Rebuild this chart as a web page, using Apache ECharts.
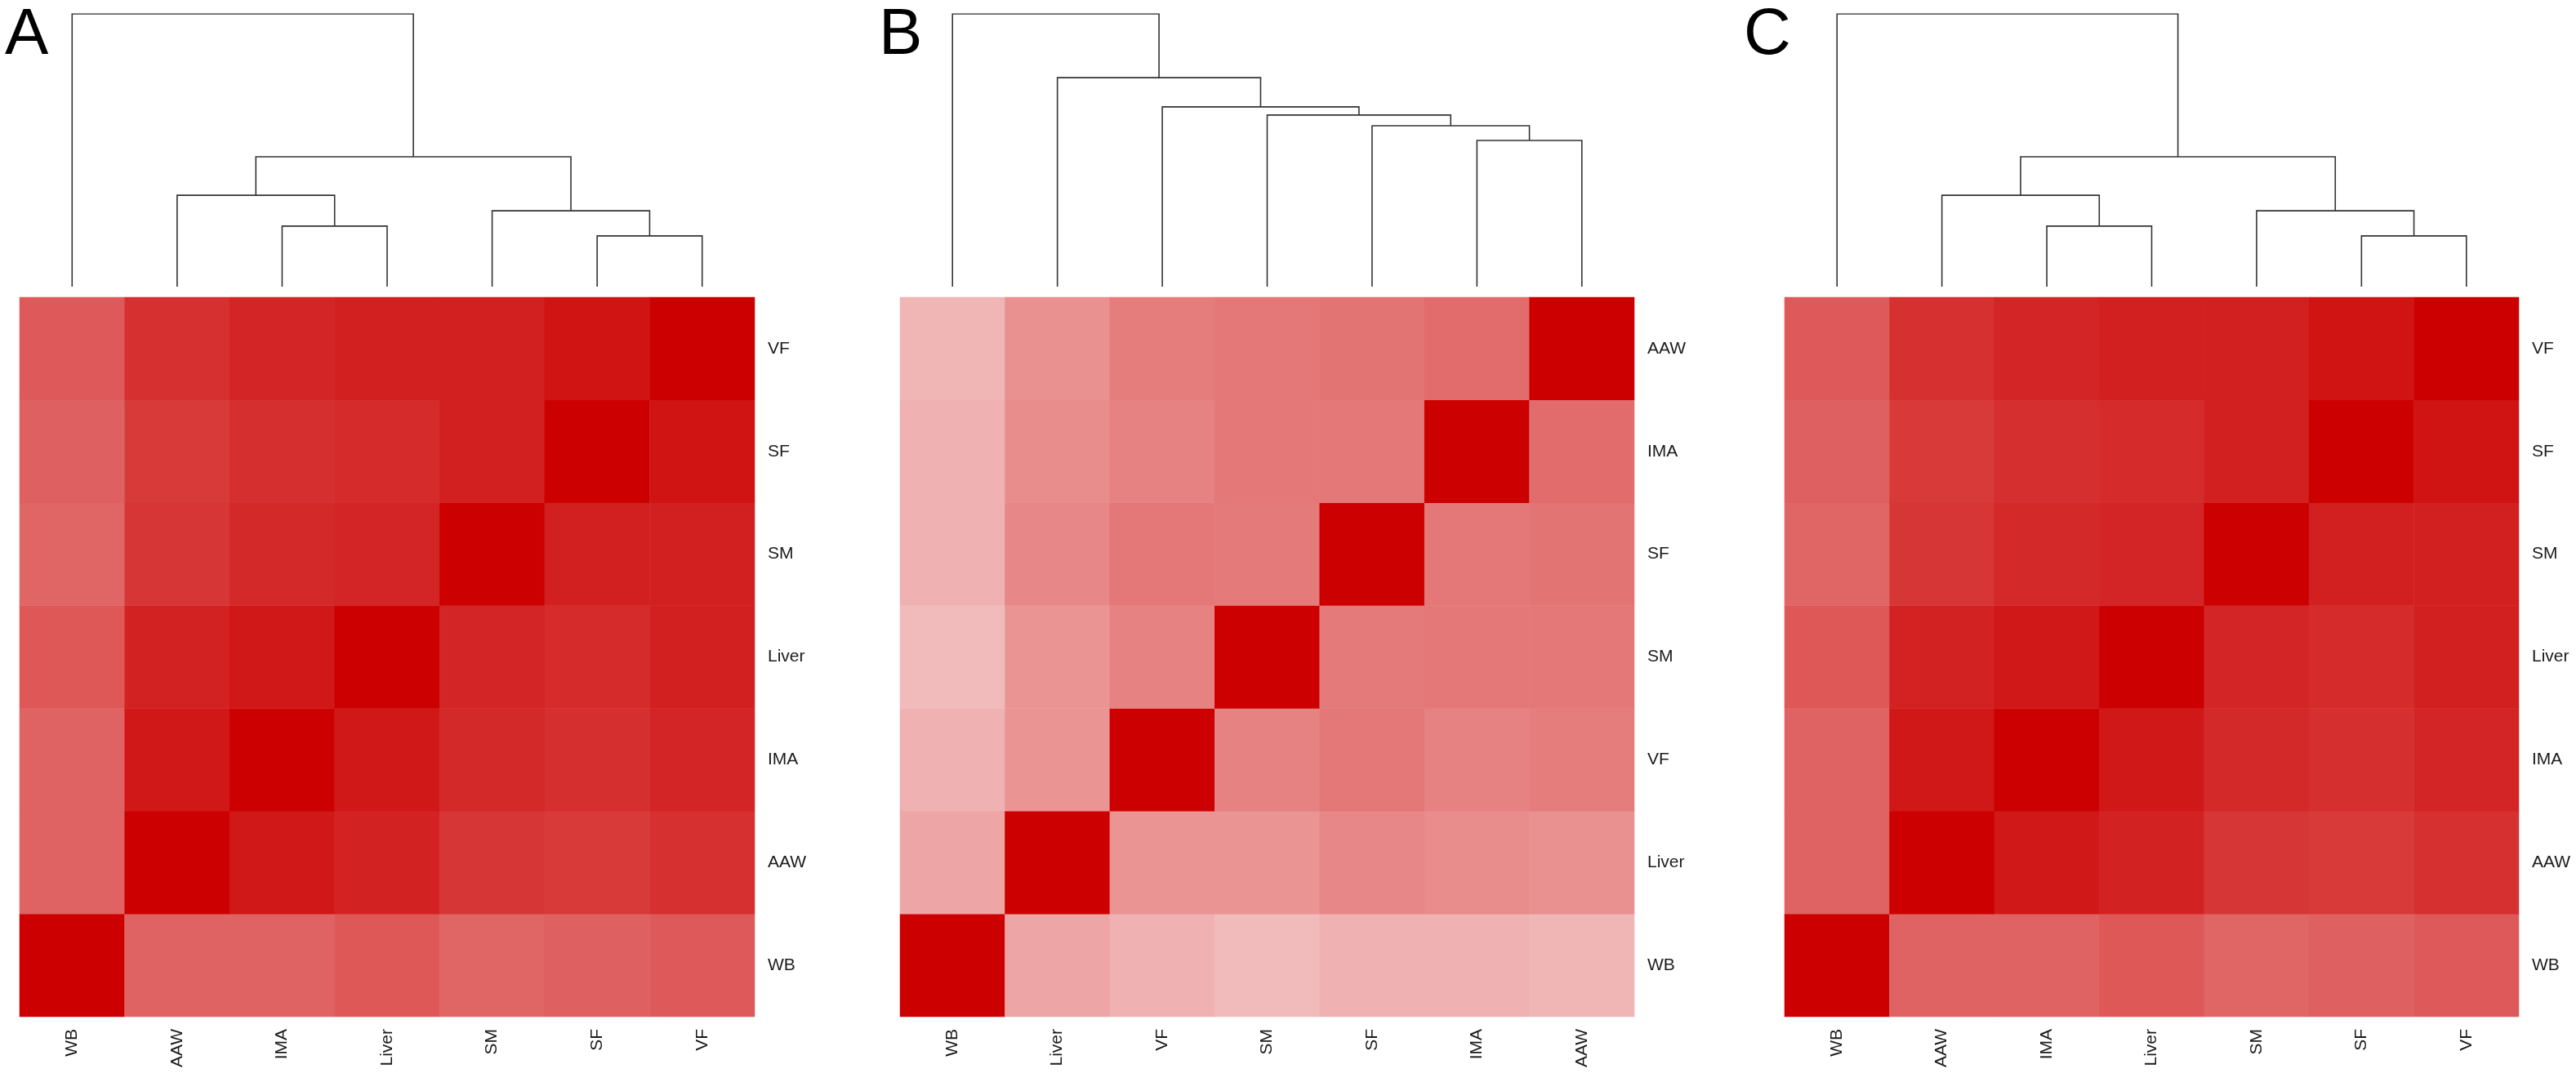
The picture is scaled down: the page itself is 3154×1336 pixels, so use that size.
<!DOCTYPE html>
<html>
<head>
<meta charset="utf-8">
<script src="https://cdn.jsdelivr.net/npm/echarts@6/dist/echarts.min.js"></script>
<style>
html,body{margin:0;padding:0;background:#fff;}
#chart{width:3154px;height:1336px;}
</style>
</head>
<body>
<div id="chart"></div>
<script>
// ---------------- DATA ----------------
var panelLetters = ['A', 'B', 'C'];

// leaf / axis order of each panel (bottom-to-top for rows, left-to-right for columns)
var labelsA = ['WB', 'AAW', 'IMA', 'Liver', 'SM', 'SF', 'VF'];
var labelsB = ['WB', 'Liver', 'VF', 'SM', 'SF', 'IMA', 'AAW'];
var labelsC = ['WB', 'AAW', 'IMA', 'Liver', 'SM', 'SF', 'VF'];

// similarity matrices (rows/cols in the label order above)
var matrixA = [
  [1.000, 0.610, 0.612, 0.655, 0.604, 0.624, 0.647],
  [0.610, 1.000, 0.906, 0.867, 0.790, 0.773, 0.812],
  [0.612, 0.906, 1.000, 0.906, 0.838, 0.815, 0.855],
  [0.655, 0.867, 0.906, 1.000, 0.855, 0.830, 0.878],
  [0.604, 0.790, 0.838, 0.855, 1.000, 0.875, 0.876],
  [0.624, 0.773, 0.815, 0.830, 0.875, 1.000, 0.920],
  [0.647, 0.812, 0.855, 0.878, 0.876, 0.920, 1.000]
];
var matrixB = [
  [1.000, 0.353, 0.305, 0.265, 0.305, 0.305, 0.290],
  [0.353, 1.000, 0.420, 0.420, 0.470, 0.450, 0.435],
  [0.305, 0.420, 1.000, 0.490, 0.535, 0.490, 0.510],
  [0.265, 0.420, 0.490, 1.000, 0.520, 0.535, 0.530],
  [0.305, 0.470, 0.535, 0.520, 1.000, 0.530, 0.545],
  [0.305, 0.450, 0.490, 0.535, 0.530, 1.000, 0.575],
  [0.290, 0.435, 0.510, 0.530, 0.545, 0.575, 1.000]
];
var matrixC = [
  [1.000, 0.610, 0.612, 0.655, 0.604, 0.624, 0.647],
  [0.610, 1.000, 0.906, 0.867, 0.790, 0.773, 0.812],
  [0.612, 0.906, 1.000, 0.906, 0.838, 0.815, 0.855],
  [0.655, 0.867, 0.906, 1.000, 0.855, 0.830, 0.878],
  [0.604, 0.790, 0.838, 0.855, 1.000, 0.875, 0.876],
  [0.624, 0.773, 0.815, 0.830, 0.875, 1.000, 0.920],
  [0.647, 0.812, 0.855, 0.878, 0.876, 0.920, 1.000]
];

// dendrograms in hclust "merge" format: -k = leaf k (1-based, in label order), +m = earlier merge m
var mergeA = [[-3, -4], [-2, 1], [-6, -7], [-5, 3], [2, 4], [-1, 5]];
var heightA = [0.222, 0.335, 0.186, 0.278, 0.476, 1.000];
var mergeB = [[-6, -7], [-5, 1], [-4, 2], [-3, 3], [-2, 4], [-1, 5]];
var heightB = [0.536, 0.590, 0.629, 0.659, 0.766, 1.000];
var mergeC = [[-3, -4], [-2, 1], [-6, -7], [-5, 3], [2, 4], [-1, 5]];
var heightC = [0.222, 0.335, 0.186, 0.278, 0.476, 1.000];

// ---------------- LAYOUT ----------------
var panelLeft = [24, 1102, 2185];
var panelWidth = [900, 899, 899];
var heatTop = 364, heatHeight = 881;
var dendTop = 17, dendHeight = 334;
var fontFam = '"Liberation Sans", Arial, Helvetica, sans-serif';

var panels = [
  {labels: labelsA, matrix: matrixA, merge: mergeA, height: heightA},
  {labels: labelsB, matrix: matrixB, merge: mergeB, height: heightB},
  {labels: labelsC, matrix: matrixC, merge: mergeC, height: heightC}
];

function dendroSegments(merge, height) {
  var pos = [], segs = [];
  function nodeXY(ref) {
    if (ref < 0) return [-ref - 1, 0];
    return pos[ref - 1];
  }
  for (var i = 0; i < merge.length; i++) {
    var a = nodeXY(merge[i][0]), b = nodeXY(merge[i][1]), h = height[i];
    segs.push({coords: [[a[0], a[1]], [a[0], h], [b[0], h], [b[0], b[1]]]});
    pos.push([(a[0] + b[0]) / 2, h]);
  }
  return segs;
}

var grids = [], xAxes = [], yAxes = [], series = [], graphics = [], heatIdx = [];

panels.forEach(function (p, i) {
  // heatmap grid
  grids.push({left: panelLeft[i], top: heatTop, width: panelWidth[i], height: heatHeight, containLabel: false});
  xAxes.push({
    type: 'category', gridIndex: 2 * i, data: p.labels, position: 'bottom',
    axisLine: {show: false}, axisTick: {show: false}, splitLine: {show: false},
    axisLabel: {rotate: 90, margin: 15, fontSize: 21, color: '#1a1a1a', fontFamily: fontFam, interval: 0}
  });
  yAxes.push({
    type: 'category', gridIndex: 2 * i, data: p.labels, position: 'right',
    axisLine: {show: false}, axisTick: {show: false}, splitLine: {show: false},
    axisLabel: {margin: 16, fontSize: 21, color: '#1a1a1a', fontFamily: fontFam, interval: 0}
  });
  var data = [];
  for (var r = 0; r < p.labels.length; r++) {
    for (var c = 0; c < p.labels.length; c++) {
      data.push([c, r, p.matrix[r][c]]);
    }
  }
  heatIdx.push(series.length);
  series.push({
    type: 'heatmap', xAxisIndex: 2 * i, yAxisIndex: 2 * i, data: data,
    itemStyle: {borderWidth: 0}, emphasis: {disabled: true}, progressive: 0
  });

  // dendrogram grid
  grids.push({left: panelLeft[i], top: dendTop, width: panelWidth[i], height: dendHeight});
  xAxes.push({type: 'value', gridIndex: 2 * i + 1, min: -0.5, max: p.labels.length - 0.5, show: false});
  yAxes.push({type: 'value', gridIndex: 2 * i + 1, min: 0, max: 1, show: false});
  series.push({
    type: 'lines', coordinateSystem: 'cartesian2d', polyline: true,
    xAxisIndex: 2 * i + 1, yAxisIndex: 2 * i + 1,
    data: dendroSegments(p.merge, p.height),
    lineStyle: {color: '#333333', width: 1.6, opacity: 1},
    silent: true
  });
});

var letterX = [6, 1076, 2135];
panelLetters.forEach(function (L, i) {
  graphics.push({
    type: 'text', left: letterX[i], top: 4,
    style: {text: L, font: '80px ' + fontFam, fill: '#000'}
  });
});

var chart = echarts.init(document.getElementById('chart'));
chart.setOption({
  backgroundColor: '#ffffff',
  animation: false,
  grid: grids,
  xAxis: xAxes,
  yAxis: yAxes,
  visualMap: {
    type: 'continuous', show: false, min: 0, max: 1, dimension: 2,
    seriesIndex: heatIdx, inRange: {color: ['#ffffff', '#cc0000']}
  },
  graphic: graphics,
  series: series
});
</script>
</body>
</html>
